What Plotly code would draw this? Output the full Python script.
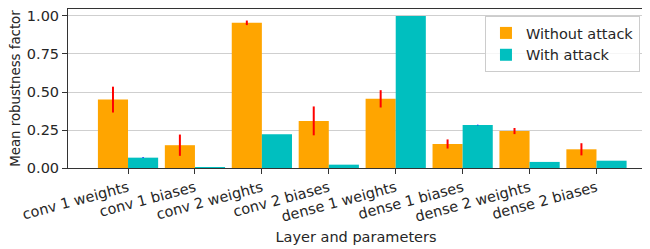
import plotly.graph_objects as go

categories = ["conv 1 weights", "conv 1 biases", "conv 2 weights", "conv 2 biases",
              "dense 1 weights", "dense 1 biases", "dense 2 weights", "dense 2 biases"]
without_attack = [0.45, 0.15, 0.955, 0.31, 0.455, 0.158, 0.243, 0.123]
without_err = [0.085, 0.07, 0.015, 0.095, 0.057, 0.03, 0.02, 0.04]
with_attack = [0.068, 0.006, 0.222, 0.022, 1.0, 0.283, 0.04, 0.048]
with_err = [0.003, 0.0, 0.0, 0.0, 0.0, 0.002, 0.0, 0.0]
yticks = [0.0, 0.25, 0.5, 0.75, 1.0]

xpos = list(range(len(categories)))
W = 0.45
FONT = "DejaVu Sans"
TXT = "#262626"
FS = 14.5

fig = go.Figure()
fig.add_trace(go.Bar(
    x=xpos, y=without_attack, width=W, offset=-W, name="Without attack",
    marker=dict(color="#FFA500", line=dict(width=0)),
    error_y=dict(type="data", array=without_err, color="red", thickness=2, width=0),
))
fig.add_trace(go.Bar(
    x=xpos, y=with_attack, width=W, offset=0, name="With attack",
    marker=dict(color="#00BFBF", line=dict(width=0)),
    error_y=dict(type="data", array=with_err, color="blue", thickness=1.5, width=0),
))

fig.update_layout(
    width=650, height=249,
    margin=dict(l=60, r=14, t=1, b=89, autoexpand=False),
    paper_bgcolor="white", plot_bgcolor="white",
    barmode="overlay",
    font=dict(family=FONT, size=FS, color=TXT),
    showlegend=True,
    legend=dict(
        x=0.993, xanchor="right", y=0.956, yanchor="top",
        bgcolor="rgba(255,255,255,0.8)", bordercolor="#cccccc", borderwidth=1,
        font=dict(family=FONT, size=FS, color=TXT),
        itemwidth=30, tracegroupgap=0,
    ),
    xaxis=dict(
        range=[-0.897, 7.71], automargin=False,
        tickmode="array", tickvals=xpos, ticktext=categories,
        tickangle=-15, ticks="outside", ticklen=5, tickcolor="#333",
        showgrid=False, zeroline=False,
        showline=True, linecolor="#333", linewidth=1, mirror=True,
        title=dict(text="Layer and parameters", standoff=8,
                   font=dict(family=FONT, size=FS, color=TXT)),
    ),
    yaxis=dict(
        range=[0, 1.046], automargin=False,
        tickmode="array", tickvals=yticks, ticktext=["%.2f" % v for v in yticks],
        ticks="outside", ticklen=5, tickcolor="#333",
        showgrid=True, gridcolor="#cfcfcf", gridwidth=1, zeroline=False,
        showline=True, linecolor="#333", linewidth=1, mirror=True,
        title=dict(text="Mean robustness factor", standoff=5,
                   font=dict(family=FONT, size=13.3, color=TXT)),
    ),
)

fig.write_html("out.html")
